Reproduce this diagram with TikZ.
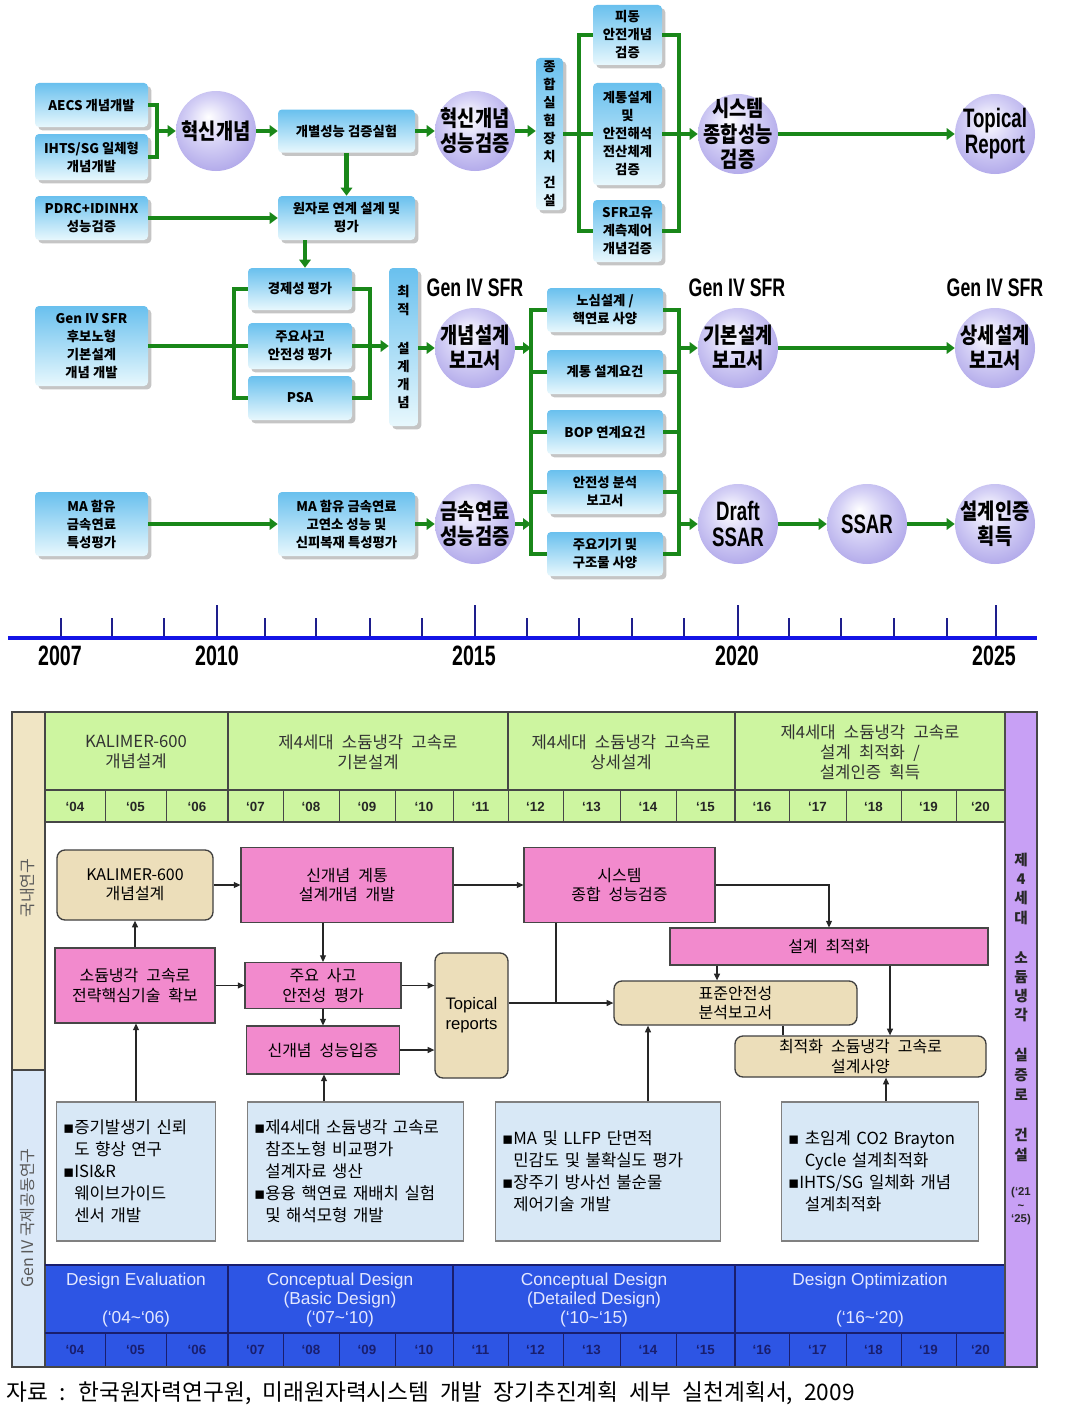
\documentclass[tikz,border=0pt]{standalone}
\usepackage{fontspec}
\setmainfont{Noto Sans CJK KR}
\newfontfamily\krw{Noto Sans CJK KR}[WordSpace=2.2]
\newfontfamily\krn{Noto Sans CJK KR}[FakeStretch=0.85]
\newfontfamily\nar{Liberation Sans}[FakeStretch=0.7]
\newfontfamily\lat{Liberation Sans}
\newfontfamily\dju{DejaVu Sans}
\usetikzlibrary{arrows.meta,shadows,calc}
\newcommand\mybul{{\dju ▪}}
\newcommand\myind{\phantom{\mybul}}
\definecolor{grn}{RGB}{25,135,25}
\definecolor{boxtop}{RGB}{105,192,238}
\definecolor{boxbot}{RGB}{232,248,253}
\definecolor{ballmid}{RGB}{214,210,246}
\definecolor{ballrim}{RGB}{172,163,232}
\definecolor{ballout}{RGB}{128,118,205}
\definecolor{axisb}{RGB}{20,20,230}
\definecolor{tickc}{RGB}{30,30,140}
\definecolor{hdrg}{RGB}{205,245,160}
\definecolor{pnk}{RGB}{242,138,205}
\definecolor{tanc}{RGB}{236,222,186}
\definecolor{tanside}{RGB}{240,229,196}
\definecolor{infob}{RGB}{216,232,246}
\definecolor{sideb}{RGB}{218,232,248}
\definecolor{purp}{RGB}{200,160,245}
\definecolor{bband}{RGB}{45,85,228}
\definecolor{bandtxt}{RGB}{228,232,255}
\definecolor{navy}{RGB}{25,30,110}
\definecolor{lnc}{RGB}{70,70,70}
\pgfdeclareradialshading{myball}{\pgfpoint{-5bp}{9bp}}{color(0bp)=(white); color(14bp)=(ballmid); color(32bp)=(ballrim); color(44bp)=(ballout); color(50bp)=(ballout)}
\tikzset{
  wh/.style 2 args={minimum width=#1*0.75pt,minimum height=#2*0.75pt},
  tbox/.style={rounded corners=3pt,top color=boxtop,bottom color=boxbot,draw=none,
    drop shadow={shadow xshift=2.5pt,shadow yshift=-2.5pt,fill=black!45},
    font=\bfseries\fontsize{10}{13.5}\selectfont,align=center,inner sep=1pt},
  ball/.style={circle,minimum size=60pt,inner sep=0pt,shading=myball},
  btxt/.style={align=center,inner sep=0pt,font=\krn\bfseries\fontsize{16.5}{19}\selectfont},
  bltx/.style={align=center,inner sep=0pt,font=\nar\bfseries\fontsize{20}{19.5}\selectfont},
  gen/.style={inner sep=0pt,font=\nar\bfseries\fontsize{19}{19}\selectfont},
  gl/.style={draw=grn,line width=3.5pt},
  ga/.style={gl,-{Triangle[length=6pt,width=8.5pt]}},
  yrlab/.style={inner sep=0pt,font=\nar\bfseries\fontsize{21}{21}\selectfont},
  pbox/.style={fill=pnk,draw=lnc,line width=0.8pt,align=center,inner sep=1pt,
    font=\krw\fontsize{12}{14.5}\selectfont},
  tnbox/.style={fill=tanc,draw=black!75,line width=1pt,rounded corners=6pt,align=center,
    inner sep=1pt,font=\krw\fontsize{12}{14.5}\selectfont},
  ibox/.style={fill=infob,draw=gray,line width=0.8pt,align=left,inner xsep=5pt,
    font=\krw\fontsize{12.5}{16.5}\selectfont},
  bar/.style={draw=black!85,line width=0.8pt,-{Triangle[length=5pt,width=4.5pt]}},
  htxt/.style={align=center,inner sep=0pt,text=black!80,font=\krw\fontsize{12.5}{15}\selectfont},
  yrh/.style={inner sep=0pt,text=black!85,font=\lat\bfseries\fontsize{10}{10}\selectfont},
  yrb/.style={inner sep=0pt,text=navy,font=\lat\bfseries\fontsize{10}{10}\selectfont},
  bt/.style={inner sep=0pt,text=bandtxt,font=\lat\fontsize{13}{13}\selectfont},
  rsd/.style={inner sep=0pt,text=black!85,font=\bfseries\fontsize{11}{11}\selectfont},
  rsm/.style={inner sep=0pt,text=black!85,font=\lat\bfseries\fontsize{8.5}{8.5}\selectfont},
}
\begin{document}
\begin{tikzpicture}[x=0.75pt,y=-0.75pt]
\useasboundingbox (0,0) rectangle (1065,1420);
\fill[white] (0,0) rectangle (1065,1420);

% ================= TOP ROADMAP =================
\node[tbox,wh={113}{44}] (aecs) at (91.5,105) {AECS 개념개발};
\node[tbox,wh={113}{46}] (ihts) at (91.5,157) {IHTS/SG 일체형\\개념개발};
\node[tbox,wh={113}{44}] (pdrc) at (91.5,218) {PDRC+IDINHX\\성능검증};
\node[ball] (inno) at (216,131) {};
\node[btxt] (inno-t) at (inno) {혁신개념};
\node[tbox,wh={137}{43}] (indv) at (346.5,131) {개별성능 검증실험};
\node[tbox,wh={137}{44}] (rx) at (346.5,218) {원자로 연계 설계 및\\평가};
\node[ball] (innov) at (475,131) {};
\node[btxt] (innov-t) at (innov) {혁신개념\\성능검증};
\node[tbox,wh={27}{152}] (facil) at (549.5,134) {종\\합\\실\\험\\장\\치\\[6pt]건\\설};
\node[tbox,wh={69}{60}] (pas) at (627.5,35) {피동\\안전개념\\검증};
\node[tbox,wh={69}{102}] (sysd) at (627.5,134) {계통설계\\및\\안전해석\\전산체계\\검증};
\node[tbox,wh={69}{62}] (sfric) at (627.5,231) {SFR고유\\계측제어\\개념검증};
\node[ball] (sysv) at (738,134) {};
\node[btxt] (sysv-t) at (sysv) {시스템\\종합성능\\검증};
\node[ball] (topr) at (995,134) {};
\node[bltx] (topr-t) at (topr) {Topical\\Report};

\coordinate (b1) at (157,131);
\draw[gl] (aecs.east) -| (b1) |- (ihts.east);
\draw[ga] (b1) -- (inno.west);
\draw[ga] (inno.east) -- (indv.west);
\draw[ga] (indv.east) -- (innov.west);
\draw[ga] (indv.south) -- (rx.north);
\draw[ga] (pdrc.east) -- (rx.west);
\draw[ga] (innov.east) -- (innov.east -| facil.west);
\coordinate (b2) at (579,134);
\draw[gl] (pas.west) -| (b2) |- (sfric.west);
\draw[gl] (facil.east) -- (sysd.west);
\coordinate (b3) at (679,134);
\draw[gl] (pas.east) -| (b3) |- (sfric.east);
\draw[gl] (sysd.east) -- (b3);
\draw[ga] (b3) -- (sysv.west);
\draw[ga] (sysv.east) -- (topr.west);

\node[tbox,wh={104}{42}] (econ) at (300,289) {경제성 평가};
\node[tbox,wh={104}{46}] (acci) at (300,346) {주요사고\\안전성 평가};
\node[tbox,wh={104}{44}] (psa) at (300,398) {PSA};
\node[tbox,wh={113}{80}] (cand) at (91.5,346) {Gen IV SFR\\후보노형\\기본설계\\개념 개발};
\node[tbox,wh={29}{158}] (optc) at (403.5,347) {최\\적\\[16pt]설\\계\\개\\념};
\coordinate (c305) at (305,0);
\draw[ga] (rx.south -| c305) -- (econ.north -| c305);
\coordinate (b4) at (234,346);
\draw[gl] (econ.west) -| (b4) |- (psa.west);
\draw[gl] (cand.east) -- (acci.west);
\coordinate (b5) at (370,346);
\draw[gl] (econ.east) -| (b5) |- (psa.east);
\draw[gl] (acci.east) -- (b5);
\draw[ga] (b5) -- (b5 -| optc.west);

\node[gen] (gen1) at (475,288) {Gen IV SFR};
\node[gen] (gen2) at (737,288) {Gen IV SFR};
\node[gen] (gen3) at (995,288) {Gen IV SFR};
\node[ball] (cdr) at (475,348) {};
\node[btxt] (cdr-t) at (cdr) {개념설계\\보고서};
\draw[ga] (optc.east |- cdr.west) -- (cdr.west);

\node[tbox,wh={113}{64}] (maf) at (91.5,524) {MA 함유\\금속연료\\특성평가};
\node[tbox,wh={137}{64}] (mahb) at (346.5,524) {MA 함유 금속연료\\고연소 성능 및\\신피복재 특성평가};
\node[ball] (mfv) at (475,524) {};
\node[btxt] (mfv-t) at (mfv) {금속연료\\성능검증};
\draw[ga] (maf.east) -- (mahb.west);
\draw[ga] (mahb.east) -- (mfv.west);

\node[tbox,wh={116}{44}] (core) at (605,310) {노심설계 /\\핵연료 사양};
\node[tbox,wh={116}{44}] (sreq) at (605,372) {계통 설계요건};
\node[tbox,wh={116}{44}] (bop) at (605,432) {BOP 연계요건};
\node[tbox,wh={116}{44}] (saf) at (605,492) {안전성 분석\\보고서};
\node[tbox,wh={116}{44}] (comp) at (605,554) {주요기기 및\\구조물 사양};
\coordinate (L1) at (531,0);
\coordinate (R1) at (679,0);
\draw[gl] (core.west) -- (core.west -| L1) -- (comp.west -| L1) -- (comp.west);
\draw[gl] (core.east) -- (core.east -| R1) -- (comp.east -| R1) -- (comp.east);
\foreach \bx in {sreq,bop,saf} {
  \draw[gl] (\bx.west -| L1) -- (\bx.west);
  \draw[gl] (\bx.east) -- (\bx.east -| R1);
}
\draw[ga] (cdr.east) -- (cdr.east -| L1);
\draw[ga] (mfv.east) -- (mfv.east -| L1);

\node[ball] (bdr) at (738,348) {};
\node[btxt] (bdr-t) at (bdr) {기본설계\\보고서};
\node[ball] (ddr) at (995,348) {};
\node[btxt] (ddr-t) at (ddr) {상세설계\\보고서};
\node[ball] (dssar) at (738,524) {};
\node[bltx] (dssar-t) at (dssar) {Draft\\SSAR};
\node[ball] (ssar) at (867,524) {};
\node[bltx] (ssar-t) at (ssar) {SSAR};
\node[ball] (cert) at (995,524) {};
\node[btxt] (cert-t) at (cert) {설계인증\\획득};
\draw[ga] (bdr.west -| R1) -- (bdr.west);
\draw[ga] (dssar.west -| R1) -- (dssar.west);
\draw[ga] (bdr.east) -- (ddr.west);
\draw[ga] (dssar.east) -- (ssar.west);
\draw[ga] (ssar.east) -- (cert.west);

% ================= TIMELINE =================
\coordinate (ax0) at (8,638);
\coordinate (ax1) at (1037,638);
\foreach \tx/\th in {61/20,112/20,164/20,217/33,265/20,316/20,370/20,422/20,475/33,527/20,579/20,632/20,684/20,738/33,789/20,841/20,894/20,947/20,996/33}
  \draw[tickc,line width=1.6pt] (\tx,638) -- (\tx,638-\th);
\draw[axisb,line width=3pt] (ax0) -- (ax1);
\node[yrlab] (y2007) at (60,656) {2007};
\node[yrlab] (y2010) at (217,656) {2010};
\node[yrlab] (y2015) at (474,656) {2015};
\node[yrlab] (y2020) at (737,656) {2020};
\node[yrlab] (y2025) at (994,656) {2025};

% ================= BOTTOM TABLE =================
\fill[tanside] (12,712) rectangle (45,1070);
\fill[sideb] (12,1070) rectangle (45,1367);
\fill[purp] (1005,712) rectangle (1037,1367);
\fill[hdrg] (45,712) rectangle (1005,822);
\fill[bband] (45,1265) rectangle (1005,1367);
\draw[lnc,line width=0.8pt] (12,1070) -- (45,1070);
\draw[lnc,line width=0.8pt] (45,712) -- (45,1367);
\draw[lnc,line width=0.8pt] (45,790) -- (1005,790);
\draw[lnc,line width=0.8pt] (45,822) -- (1005,822);
\draw[lnc,line width=0.8pt] (508,712) -- (508,790);
\draw[navy,line width=0.8pt] (45,1265) -- (1005,1265);
\draw[navy,line width=0.8pt] (45,1333) -- (1005,1333);
\draw[navy,line width=0.8pt] (453,1265) -- (453,1333);
\foreach \a/\b/\yr in {45/105/04,105/166/05,166/228/06,228/283/07,283/339/08,339/395/09,395/453/10,453/508/11,508/563/12,563/620/13,620/676/14,676/735/15,735/789/16,789/846/17,846/901/18,901/956/19,956/1005/20} {
  \node[yrh] (hy\yr) at ({(\a+\b)/2},807) {‘\yr};
  \node[yrb] (by\yr) at ({(\a+\b)/2},1350) {‘\yr};
  \draw[lnc,line width=0.7pt] (\b,790) -- (\b,822);
  \draw[navy,line width=0.7pt] (\b,1333) -- (\b,1367);
}
\draw[lnc,line width=2pt] (228,712) -- (228,822);
\draw[lnc,line width=2pt] (735,712) -- (735,822);
\draw[navy,line width=2pt] (228,1265) -- (228,1367);
\draw[navy,line width=1.2pt] (735,1265) -- (735,1367);
\draw[black!70,line width=1.4pt] (1005,712) -- (1005,1367);
\draw[lnc,line width=1pt] (12,712) rectangle (1037,1367);

\node[htxt] (h1) at (136,752) {KALIMER-600\\개념설계};
\node[htxt] (h2) at (368,752) {제4세대 소듐냉각 고속로\\기본설계};
\node[htxt] (h3) at (621,752) {제4세대 소듐냉각 고속로\\상세설계};
\node[htxt] (h4) at (870,752) {제4세대 소듐냉각 고속로\\설계 최적화 /\\설계인증 획득};

\node[bt] (bd1a) at (136,1281) {Design Evaluation};
\node[bt] (bd1b) at (136,1319) {(‘04\textasciitilde‘06)};
\node[bt] (bd2a) at (340,1281) {Conceptual Design};
\node[bt] (bd2b) at (340,1300) {(Basic Design)};
\node[bt] (bd2c) at (340,1319) {(‘07\textasciitilde‘10)};
\node[bt] (bd3a) at (594,1281) {Conceptual Design};
\node[bt] (bd3b) at (594,1300) {(Detailed Design)};
\node[bt] (bd3c) at (594,1319) {(‘10\textasciitilde‘15)};
\node[bt] (bd4a) at (870,1281) {Design Optimization};
\node[bt] (bd4b) at (870,1319) {(‘16\textasciitilde‘20)};

\node[rotate=90,inner sep=0pt,text=black!65,font=\fontsize{12}{12}\selectfont] (side1) at (28,888) {국내연구};
\node[rotate=90,inner sep=0pt,text=black!65,font=\fontsize{12}{12}\selectfont] (side2) at (28,1218) {Gen IV 국제공동연구};
\foreach \c/\yy [count=\n] in {제/860,4/879,세/898,대/918,소/958,듐/977,냉/996,각/1015,실/1055,증/1075,로/1095,건/1135,설/1155}
  \node[rsd] (rs\n) at (1021,\yy) {\c};
\node[rsm] (rs14) at (1021,1193) {(‘21};
\node[rsm] (rs15) at (1021,1207) {\textasciitilde};
\node[rsm] (rs16) at (1021,1220) {‘25)};

% content boxes
\node[tnbox,wh={156}{70}] (kal) at (135,885) {KALIMER-600\\개념설계};
\node[pbox,wh={212}{75}] (sin) at (347,885) {신개념 계통\\설계개념 개발};
\node[pbox,wh={191}{75}] (sys) at (619.5,885) {시스템\\종합 성능검증};
\node[pbox,wh={318}{37}] (opt) at (829,946.5) {설계 최적화};
\node[pbox,wh={160}{75}] (sod) at (135,985.5) {소듐냉각 고속로\\전략핵심기술 확보};
\node[pbox,wh={156}{46}] (acc) at (323,985.5) {주요 사고\\안전성 평가};
\node[pbox,wh={153}{48}] (perf) at (323,1050) {신개념 성능입증};
\node[tnbox,wh={73}{125},font=\lat\fontsize{12.5}{15}\selectfont] (tpr) at (471.5,1015.5) {Topical\\reports};
\node[tnbox,wh={243}{44}] (std) at (735.5,1003) {표준안전성\\분석보고서};
\node[tnbox,wh={251}{41}] (spec) at (860.5,1056.5) {최적화 소듐냉각 고속로\\설계사양};

\node[ibox,wh={158}{139},text width=146*0.75pt] (inf1) at (136,1171.5)
  {\mybul 증기발생기 신뢰\\\myind 도 향상 연구\\\mybul ISI\&R\\\myind 웨이브가이드\\\myind 센서 개발};
\node[ibox,wh={215}{139},text width=203*0.75pt] (inf2) at (355.5,1171.5)
  {\mybul 제4세대 소듐냉각 고속로\\\myind 참조노형 비교평가\\\myind 설계자료 생산\\\mybul 용융 핵연료 재배치 실험\\\myind 및 해석모형 개발};
\node[ibox,wh={224}{139},text width=212*0.75pt] (inf3) at (608,1171.5)
  {\mybul MA 및 LLFP 단면적\\\myind 민감도 및 불확실도 평가\\\mybul 장주기 방사선 불순물\\\myind 제어기술 개발};
\node[ibox,wh={196}{139},text width=184*0.75pt] (inf4) at (880,1171.5)
  {\mybul\ 초임계 CO2 Brayton\\\myind\ Cycle 설계최적화\\\mybul IHTS/SG 일체화 개념\\\myind\ 설계최적화};

% connectors
\draw[bar] (kal.east) -- (sin.west);
\draw[bar] (sin.east) -- (sys.west);
\draw[bar] (sys.east) -| (opt.north);
\draw[bar] (sod.north) -- (kal.south);
\draw[bar] (sod.east) -- (acc.west);
\draw[bar] (acc.north |- sin.south) -- (acc.north);
\draw[bar] (acc.south) -- (perf.north);
\draw[bar] (acc.east) -- (acc.east -| tpr.west);
\draw[bar] (perf.east) -- (perf.east -| tpr.west);
\draw[bar] (tpr.east |- std.west) -- (std.west);
\coordinate (j1) at (556,1003);
\draw[draw=black!85,line width=0.8pt] (sys.south -| j1) -- (j1);
\coordinate (j2) at (717,0);
\draw[bar] (opt.south -| j2) -- (std.north -| j2);
\coordinate (j3) at (890,0);
\draw[bar] (opt.south -| j3) -- (spec.north -| j3);
\coordinate (j4) at (783,0);
\draw[draw=black!85,line width=0.8pt] (std.south -| j4) -- (spec.north -| j4);
\draw[bar] (inf1.north) -- (sod.south -| inf1.north);
\coordinate (j5) at (324,0);
\draw[bar] (inf2.north -| j5) -- (perf.south -| j5);
\coordinate (j6) at (648,0);
\draw[bar] (inf3.north -| j6) -- (std.south -| j6);
\coordinate (j7) at (886,0);
\draw[bar] (inf4.north -| j7) -- (spec.south -| j7);

\node[anchor=west,inner sep=0pt,font=\krw\fontsize{17}{17}\selectfont] (cap) at (6,1393)
  {자료 : 한국원자력연구원, 미래원자력시스템 개발 장기추진계획 세부 실천계획서, 2009};
\end{tikzpicture}
\end{document}
